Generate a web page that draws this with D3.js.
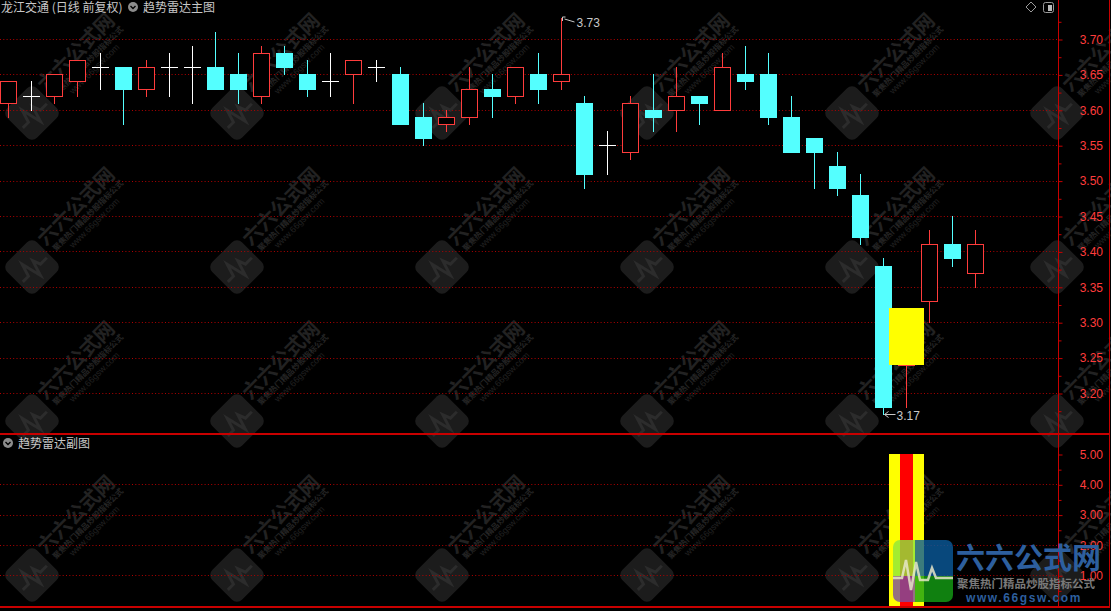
<!DOCTYPE html>
<html>
<head>
<meta charset="utf-8">
<script src="https://cdn.jsdelivr.net/npm/d3@7"></script>
<style>
  body { margin: 0; background: #000; overflow: hidden; }
  svg { display: block; }
</style>
</head>
<body>
<svg id="chart"></svg>
<script>
// daily candles, 龙江交通 前复权
const open  = [3.61, 3.62, 3.62, 3.64, 3.66, 3.66, 3.63, 3.66, 3.66, 3.66, 3.65, 3.62, 3.68, 3.65, 3.64, 3.65, 3.66,
               3.65, 3.59, 3.58, 3.59, 3.63, 3.62, 3.65, 3.64, 3.61, 3.55, 3.54, 3.60, 3.60, 3.62, 3.60, 3.65,
               3.65, 3.59, 3.56, 3.52, 3.48, 3.38, 3.24, 3.33, 3.41, 3.37];
const high  = [3.64, 3.64, 3.65, 3.67, 3.68, 3.66, 3.67, 3.68, 3.69, 3.71, 3.68, 3.69, 3.69, 3.67, 3.68, 3.67, 3.67,
               3.66, 3.61, 3.60, 3.66, 3.65, 3.66, 3.68, 3.73, 3.62, 3.57, 3.62, 3.65, 3.66, 3.62, 3.68, 3.69,
               3.68, 3.62, 3.56, 3.54, 3.51, 3.39, 3.32, 3.43, 3.45, 3.43];
const low   = [3.59, 3.60, 3.61, 3.62, 3.63, 3.58, 3.62, 3.62, 3.61, 3.63, 3.61, 3.61, 3.65, 3.62, 3.62, 3.61, 3.64,
               3.58, 3.55, 3.57, 3.58, 3.59, 3.61, 3.61, 3.63, 3.49, 3.51, 3.53, 3.57, 3.57, 3.58, 3.60, 3.63,
               3.58, 3.54, 3.49, 3.48, 3.41, 3.17, 3.18, 3.30, 3.38, 3.35];
const close = [3.64, 3.62, 3.65, 3.67, 3.66, 3.63, 3.66, 3.66, 3.66, 3.63, 3.63, 3.68, 3.66, 3.63, 3.64, 3.67, 3.66,
               3.58, 3.56, 3.59, 3.63, 3.62, 3.66, 3.63, 3.65, 3.51, 3.55, 3.61, 3.59, 3.62, 3.61, 3.66, 3.64,
               3.59, 3.54, 3.54, 3.49, 3.42, 3.18, 3.32, 3.41, 3.39, 3.41];

// 趋势雷达 signal (main box + sub-chart bar)
const signalIdx    = [39];
const signalTop    = [3.32];
const signalBottom = [3.24];
const signalValue  = [5];

const priceTicks = [3.20, 3.25, 3.30, 3.35, 3.40, 3.45, 3.50, 3.55, 3.60, 3.65, 3.70];
const subTicks   = [1, 2, 3, 4, 5];
const subGrid    = [1, 2, 3, 4];

const stockTitle = "龙江交通 (日线 前复权)";
const mainName   = "趋势雷达主图";
const subName    = "趋势雷达副图";

const W = 1111, H = 611;
const axisX = 1058.5, rightX = 1109.5, splitY = 434, bottomY = 607;
const UP = "#ff3c3c", DOWN = "#54ffff", FLAT = "#ffffff";
const GRID = "#b00000", AXIS = "#c80000", LABEL = "#ff3c3c";

const svg = d3.select("#chart").attr("width", W).attr("height", H);
svg.append("rect").attr("width", W).attr("height", H).attr("fill", "#000");

const x = d3.scaleLinear().domain([0, open.length - 1]).range([8.5, 975.8]);
const y = d3.scaleLinear().domain([3.20, 3.70]).range([393, 39]);
const ySub = d3.scaleLinear().domain([0, 5]).range([605.5, 454]);

//watermarks in the background
const wmCols = [32, 237, 442, 647, 852, 1057];
const wmRows = [113, 267, 421, 575];
const wm = svg.append("g");
wmRows.forEach(r => wmCols.forEach(c => {
    const g = wm.append("g").attr("transform", `translate(${c},${r}) rotate(-45)`);
    g.append("rect")
        .attr("x", -21).attr("y", -21).attr("width", 42).attr("height", 42).attr("rx", 7)
        .attr("fill", "#1c1c1c");
    g.append("path")
        .attr("d", "M-17,4 L-9,4 L-5,-9 L0,12 L5,-4 L8,4 L17,4")
        .attr("fill", "none").attr("stroke", "#2c2c2c").attr("stroke-width", 3);
    g.append("text").attr("x", 24).attr("y", -5).text("六六公式网")
        .attr("font-size", 20).attr("font-weight", "bold").attr("fill", "#222")
        .attr("font-family", "Noto Sans CJK SC");
    g.append("text").attr("x", 28).attr("y", 6).text("聚焦热门精品炒股指标公式")
        .attr("font-size", 8).attr("font-weight", "bold").attr("fill", "#252525")
        .attr("font-family", "Noto Sans CJK SC");
    g.append("text").attr("x", 42).attr("y", 16).text("www.66gsw.com")
        .attr("font-size", 9).attr("fill", "#202020").attr("font-family", "Liberation Sans");
}));

//grid lines
svg.append("g").selectAll("line").data(priceTicks).join("line")
    .attr("x1", 0).attr("x2", axisX)
    .attr("y1", d => Math.round(y(d)) + 0.5).attr("y2", d => Math.round(y(d)) + 0.5)
    .attr("stroke", GRID).attr("stroke-dasharray", "1,2.3");
svg.append("g").selectAll("line").data(subGrid).join("line")
    .attr("x1", 0).attr("x2", axisX)
    .attr("y1", d => Math.round(ySub(d)) + 0.5).attr("y2", d => Math.round(ySub(d)) + 0.5)
    .attr("stroke", GRID).attr("stroke-dasharray", "1,2.3");

//candles
const candles = svg.append("g");
open.forEach((o, i) => {
    const c = close[i];
    const cx = Math.floor(x(i));
    const col = c > o ? UP : c < o ? DOWN : FLAT;
    candles.append("line")
        .attr("x1", cx + 0.5).attr("x2", cx + 0.5)
        .attr("y1", Math.round(y(high[i]))).attr("y2", Math.round(y(low[i])) + 1)
        .attr("stroke", col);
    const top = Math.round(y(Math.max(o, c)));
    const bot = Math.round(y(Math.min(o, c)));
    if (c > o) {
        candles.append("rect")
            .attr("x", cx - 7.5).attr("y", top + 0.5)
            .attr("width", 16).attr("height", bot - top)
            .attr("fill", "#000").attr("stroke", col);
    } else if (c < o) {
        candles.append("rect")
            .attr("x", cx - 8).attr("y", top)
            .attr("width", 17).attr("height", bot - top + 1)
            .attr("fill", col);
    } else {
        candles.append("line")
            .attr("x1", cx - 8).attr("x2", cx + 9)
            .attr("y1", top + 0.5).attr("y2", top + 0.5)
            .attr("stroke", col);
    }
});

//signal box on the main chart and the bar below
signalIdx.forEach((s, k) => {
    const cx = Math.floor(x(s));
    svg.append("rect")
        .attr("x", cx - 17).attr("y", Math.round(y(signalTop[k])))
        .attr("width", 35).attr("height", Math.round(y(signalBottom[k])) - Math.round(y(signalTop[k])))
        .attr("fill", "#ffff00");
    svg.append("rect")
        .attr("x", cx - 17).attr("y", Math.round(ySub(signalValue[k])))
        .attr("width", 35).attr("height", Math.round(ySub(0)) - Math.round(ySub(signalValue[k])))
        .attr("fill", "#ffff00");
    svg.append("rect")
        .attr("x", cx - 6).attr("y", Math.round(ySub(signalValue[k])))
        .attr("width", 13).attr("height", Math.round(ySub(0)) - Math.round(ySub(signalValue[k])))
        .attr("fill", "#ff0000");
});

//max / min markers
const hiVal = d3.max(high), hiIdx = high.indexOf(hiVal);
const loVal = d3.min(low), loIdx = low.indexOf(loVal);
const hx = Math.floor(x(hiIdx)) + 0.5, hy = Math.round(y(hiVal));
svg.append("path")
    .attr("d", `M${hx + 1},${hy + 3} V${hy - 1} H${hx + 4} M${hx + 3},${hy + 1} L${hx + 13},${hy + 4}`)
    .attr("fill", "none").attr("stroke", "#c8c8c8");
svg.append("text").attr("x", hx + 15).attr("y", hy + 9).text(hiVal.toFixed(2))
    .attr("fill", "#c8c8c8").attr("font-size", 12).attr("font-family", "Liberation Sans");
const lx = Math.floor(x(loIdx)) + 0.5, ly = Math.round(y(loVal)) + 0.5;
svg.append("path")
    .attr("d", `M${lx + 1},${ly} H${lx + 12} M${lx + 1},${ly} l4,-3 M${lx + 1},${ly} l4,3`)
    .attr("fill", "none").attr("stroke", "#c8c8c8");
svg.append("text").attr("x", lx + 13).attr("y", ly + 5).text(loVal.toFixed(2))
    .attr("fill", "#c8c8c8").attr("font-size", 12).attr("font-family", "Liberation Sans");

//axes
const fmt = d3.format(".2f");
function styleAxis(g) {
    g.select(".domain").remove();
    g.selectAll("line").attr("stroke", AXIS);
    g.selectAll("text")
        .attr("x", 44.5).attr("text-anchor", "end")
        .attr("fill", LABEL).attr("font-size", 12)
        .attr("font-family", "Liberation Sans, Arial");
}
const priceMinor = [3.175].concat(priceTicks.map(t => t + 0.025));
svg.append("g").attr("transform", `translate(${axisX},0.5)`)
    .call(d3.axisRight(y).tickValues(priceMinor).tickSize(3).tickFormat(""))
    .call(styleAxis);
svg.append("g").attr("transform", `translate(${axisX},0.5)`)
    .call(d3.axisRight(y).tickValues(priceTicks).tickSize(4).tickFormat(fmt))
    .call(styleAxis);
const subMinor = [0.5].concat(subTicks.map(t => t - 0.5)).filter((t, i, a) => a.indexOf(t) === i);
svg.append("g").attr("transform", `translate(${axisX},0.5)`)
    .call(d3.axisRight(ySub).tickValues(subMinor).tickSize(3).tickFormat(""))
    .call(styleAxis);
svg.append("g").attr("transform", `translate(${axisX},0.5)`)
    .call(d3.axisRight(ySub).tickValues(subTicks).tickSize(4).tickFormat(fmt))
    .call(styleAxis);

//frame
const frame = svg.append("g").attr("stroke", AXIS).attr("fill", "none");
frame.append("line").attr("x1", axisX).attr("x2", axisX).attr("y1", 0).attr("y2", bottomY + 1);
frame.append("line").attr("x1", rightX).attr("x2", rightX).attr("y1", 0).attr("y2", bottomY + 1);
frame.append("line").attr("x1", 0).attr("x2", rightX).attr("y1", splitY).attr("y2", splitY).attr("stroke-width", 2);
frame.append("line").attr("x1", 0).attr("x2", rightX).attr("y1", bottomY).attr("y2", bottomY).attr("stroke-width", 2);

//titles
const cjk = "Noto Sans CJK SC";
function chevron(cx, cy) {
    svg.append("circle").attr("cx", cx).attr("cy", cy).attr("r", 5).attr("fill", "#8c8c8c");
    svg.append("path").attr("d", `M${cx - 2.5},${cy - 1} L${cx},${cy + 1.5} L${cx + 2.5},${cy - 1}`)
        .attr("fill", "none").attr("stroke", "#000").attr("stroke-width", 1.4);
}
svg.append("text").attr("x", 1).attr("y", 12).text(stockTitle)
    .attr("fill", "#c8c8c8").attr("font-size", 12).attr("font-family", cjk);
chevron(133, 7);
svg.append("text").attr("x", 143).attr("y", 12).text(mainName)
    .attr("fill", "#c8c8c8").attr("font-size", 12).attr("font-family", cjk);
chevron(8, 443);
svg.append("text").attr("x", 18).attr("y", 448).text(subName)
    .attr("fill", "#c8c8c8").attr("font-size", 12).attr("font-family", cjk);

//top right buttons
svg.append("path").attr("d", "M1031,2 L1036,7 L1031,12 L1026,7 Z")
    .attr("fill", "none").attr("stroke", "#9a9a9a");
svg.append("rect").attr("x", 1043.5).attr("y", 2.5).attr("width", 10).attr("height", 10).attr("rx", 2)
    .attr("fill", "none").attr("stroke", "#9a9a9a");
svg.append("rect").attr("x", 1048).attr("y", 5).attr("width", 4).attr("height", 6).attr("fill", "#bbb");

//site logo bottom right
const logo = svg.append("g");
const clip = svg.append("clipPath").attr("id", "logoClip");
clip.append("rect").attr("x", 893).attr("y", 540).attr("width", 60).attr("height", 62).attr("rx", 7);
const icon = logo.append("g").attr("clip-path", "url(#logoClip)").attr("opacity", 0.8);
icon.append("rect").attr("x", 893).attr("y", 540).attr("width", 60).attr("height", 36).attr("fill", "#0b5a9c");
icon.append("rect").attr("x", 893).attr("y", 540).attr("width", 22).attr("height", 36).attr("fill", "#8ee83c");
icon.append("rect").attr("x", 893).attr("y", 576).attr("width", 60).attr("height", 26).attr("fill", "#14a014");
icon.append("rect").attr("x", 893).attr("y", 576).attr("width", 22).attr("height", 26).attr("fill", "#7b4fa0");
logo.append("path")
    .attr("d", "M893,578 L902,578 L906,560 L911,590 L916,562 L920,580 L928,580 L932,568 L936,578 L953,578")
    .attr("fill", "none").attr("stroke", "#e6e6c8").attr("stroke-width", 2.5).attr("opacity", 0.85);
logo.append("text").attr("x", 956).attr("y", 569).text("六六公式网")
    .attr("fill", "#2d5f9e").attr("font-size", 29).attr("font-weight", "bold").attr("font-family", cjk);
logo.append("text").attr("x", 957).attr("y", 588).text("聚焦热门精品炒股指标公式")
    .attr("fill", "#7a7a7a").attr("font-size", 11.5).attr("font-weight", "bold").attr("font-family", cjk);
logo.append("text").attr("x", 966).attr("y", 602).text("www.66gsw.com")
    .attr("fill", "#2d5f9e").attr("font-size", 12).attr("font-weight", "bold")
    .attr("letter-spacing", 1.6).attr("font-family", "Liberation Sans");
</script>
</body>
</html>
